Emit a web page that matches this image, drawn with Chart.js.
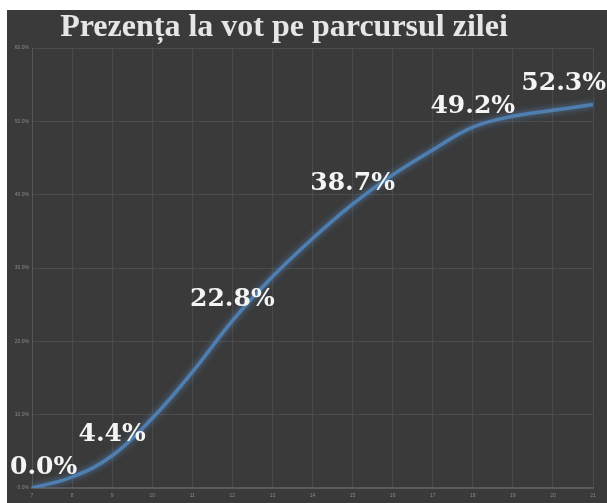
<!DOCTYPE html>
<html>
<head>
<meta charset="utf-8">
<script src="https://cdn.jsdelivr.net/npm/chart.js@4/dist/chart.umd.min.js"></script>
<style>
  html, body { margin: 0; padding: 0; background: #fff; }
  #box { position: absolute; left: 7px; top: 10px; width: 600px; height: 493px; background: #3a3a3a; }
</style>
</head>
<body>
<div id="box"><canvas id="myChart" width="600" height="493"></canvas></div>
<script>
const title = "Prezența la vot pe parcursul zilei";
const hours = ["7", "8", "9", "10", "11", "12", "13", "14", "15", "16", "17", "18", "19", "20", "21"];
const turnout = [0.0, 1.5, 4.4, 9.5, 15.8, 22.8, 28.8, 34.0, 38.7, 42.7, 46.1, 49.2, 50.7, 51.5, 52.3];
const labelled = [0, 2, 5, 8, 11, 14];
const yTicks = [0, 10, 20, 30, 40, 50, 60];

// soft glow under the line
const glow = {
    id: 'glow',
    beforeDatasetDraw(chart, args) {
        if (args.index !== 0) return;
        chart.ctx.save();
        chart.ctx.shadowColor = 'rgba(90, 140, 200, 0.8)';
        chart.ctx.shadowBlur = 6;
    },
    afterDatasetDraw(chart, args) {
        if (args.index !== 0) return;
        chart.ctx.restore();
    }
};

// title + big percentage labels
const textLayer = {
    id: 'textLayer',
    afterDatasetsDraw(chart) {
        const ctx = chart.ctx;
        ctx.save();
        ctx.fillStyle = '#e6e6e6';
        ctx.textAlign = 'center';
        ctx.textBaseline = 'alphabetic';
        ctx.font = 'bold 32px "Liberation Serif"';
        ctx.fillText(title, 277, 26);

        const meta = chart.getDatasetMeta(1);
        ctx.font = 'bold 25px "DejaVu Serif"';
        ctx.fillStyle = '#f4f4f4';
        ctx.textBaseline = 'middle';
        labelled.forEach(i => {
            const pt = meta.data[i];
            const text = turnout[i].toFixed(1) + '%';
            const w = ctx.measureText(text).width;
            let x = pt.x;
            x = Math.max(x, 3 + w / 2);
            x = Math.min(x, chart.width - 1 - w / 2);
            ctx.fillText(text, x, pt.y - 21);
        });
        ctx.restore();
    }
};

const ctx = document.querySelector('#myChart').getContext('2d');
new Chart(ctx, {
    type: 'line',
    data: {
        labels: hours,
        datasets: [{
            data: turnout,
            borderColor: '#4f7fb0',
            borderWidth: 3.5,
            pointRadius: 0,
            tension: 0.4
        }, {
            data: turnout,
            borderColor: '#a4c6e6',
            borderWidth: 1,
            pointRadius: 0,
            tension: 0.4
        }]
    },
    options: {
        responsive: false,
        animation: false,
        layout: { padding: { top: 38, right: 14, left: 0, bottom: 0 } },
        plugins: {
            legend: { display: false },
            tooltip: { enabled: false },
            title: { display: false }
        },
        scales: {
            y: {
                min: 0,
                max: 60,
                afterFit: scale => { scale.width = 25; },
                afterBuildTicks: scale => { scale.ticks = yTicks.map(v => ({ value: v })); },
                grid: { color: '#4c4c4c', drawTicks: false },
                border: { color: '#555' },
                ticks: {
                    color: '#8a8a8a',
                    font: { size: 5 },
                    padding: 3,
                    callback: v => v.toFixed(1) + '%'
                }
            },
            x: {
                afterFit: scale => { scale.height = 15; },
                grid: { color: '#4a4a4a', drawTicks: false },
                border: { color: '#5a5a5a', width: 2 },
                ticks: { color: '#8a8a8a', font: { size: 5 }, padding: 5, maxRotation: 0 }
            }
        }
    },
    plugins: [glow, textLayer]
});
</script>
</body>
</html>
